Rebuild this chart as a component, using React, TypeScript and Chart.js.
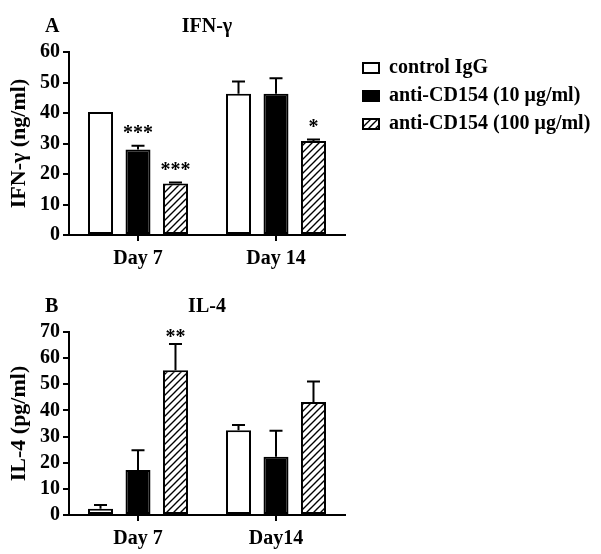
import React, { useEffect, useRef } from "react";
import { Chart, registerables } from "chart.js";

Chart.register(...registerables);

// ---------- data ----------
const CATEGORIES_A = ["Day 7", "Day 14"];
const CATEGORIES_B = ["Day 7", "Day14"];
const SERIES_NAMES = ["control IgG", "anti-CD154 (10 μg/ml)", "anti-CD154 (100 μg/ml)"];

const IFN_CONTROL = [40.3, 46.3];
const IFN_CONTROL_ERR = [0, 4.0];
const IFN_LOW = [28.0, 46.3];
const IFN_LOW_ERR = [1.3, 5.1];
const IFN_HIGH = [16.9, 30.8];
const IFN_HIGH_ERR = [0.3, 0.5];

const IL4_CONTROL = [2.4, 32.4];
const IL4_CONTROL_ERR = [1.4, 2.0];
const IL4_LOW = [17.2, 22.3];
const IL4_LOW_ERR = [7.6, 9.9];
const IL4_HIGH = [55.4, 43.2];
const IL4_HIGH_ERR = [10.0, 7.9];

const IFN_Y_MAX = 60;
const IL4_Y_MAX = 70;
const Y_STEP = 10;

const IFN_STARS = [
  { series: 1, index: 0, text: "***" },
  { series: 2, index: 0, text: "***" },
  { series: 2, index: 1, text: "*" },
];
const IL4_STARS = [{ series: 2, index: 0, text: "**" }];

const PANEL_A = { letter: "A", title: "IFN-γ", yTitle: "IFN-γ (ng/ml)" };
const PANEL_B = { letter: "B", title: "IL-4", yTitle: "IL-4 (pg/ml)" };

// ---------- style ----------
const FONT = "'Liberation Serif', 'Times New Roman', Times, serif";
const BLACK = "#000";

function makeHatch(): CanvasPattern | string {
  const size = 7;
  const c = document.createElement("canvas");
  c.width = size;
  c.height = size;
  const g = c.getContext("2d");
  if (!g) return "#fff";
  g.fillStyle = "#fff";
  g.fillRect(0, 0, size, size);
  g.strokeStyle = "#000";
  g.lineWidth = 1.4;
  g.beginPath();
  g.moveTo(-1, size + 1);
  g.lineTo(size + 1, -1);
  g.moveTo(-size / 2 - 1, size / 2 + 1);
  g.lineTo(size / 2 + 1, -size / 2 - 1);
  g.moveTo(size / 2 - 1, size * 1.5 + 1);
  g.lineTo(size * 1.5 + 1, size / 2 - 1);
  g.stroke();
  return g.createPattern(c, "repeat") || "#fff";
}

function errorBarPlugin(errs: number[][]) {
  return {
    id: "errorBars",
    afterDatasetsDraw(chart: any) {
      const { ctx } = chart;
      const yScale = chart.scales.y;
      ctx.save();
      ctx.strokeStyle = BLACK;
      ctx.lineWidth = 2;
      chart.data.datasets.forEach((ds: any, i: number) => {
        const meta = chart.getDatasetMeta(i);
        meta.data.forEach((bar: any, j: number) => {
          const e = errs[i][j];
          if (!e) return;
          const v = ds.data[j];
          const yTop = yScale.getPixelForValue(v + e);
          const x = bar.x;
          ctx.beginPath();
          ctx.moveTo(x, bar.y);
          ctx.lineTo(x, yTop);
          ctx.moveTo(x - 6.5, yTop);
          ctx.lineTo(x + 6.5, yTop);
          ctx.stroke();
        });
      });
      ctx.restore();
    },
  };
}

function starPlugin(stars: { series: number; index: number; text: string }[], errs: number[][], gap: number) {
  return {
    id: "stars",
    afterDatasetsDraw(chart: any) {
      const { ctx } = chart;
      const yScale = chart.scales.y;
      ctx.save();
      ctx.fillStyle = BLACK;
      ctx.font = `bold 20px ${FONT}`;
      ctx.textAlign = "center";
      ctx.textBaseline = "alphabetic";
      stars.forEach((s) => {
        const bar = chart.getDatasetMeta(s.series).data[s.index];
        const v = chart.data.datasets[s.series].data[s.index] + (errs[s.series][s.index] || 0);
        const y = yScale.getPixelForValue(v);
        ctx.fillText(s.text, bar.x, y - gap);
      });
      ctx.restore();
    },
  };
}

function panelTitlePlugin(letter: string, title: string) {
  return {
    id: "panelTitle",
    afterDraw(chart: any) {
      const { ctx, chartArea } = chart;
      ctx.save();
      ctx.fillStyle = BLACK;
      ctx.font = `bold 20px ${FONT}`;
      ctx.textBaseline = "alphabetic";
      ctx.textAlign = "left";
      ctx.fillText(letter, chartArea.left - 24, chartArea.top - 20);
      ctx.textAlign = "center";
      ctx.fillText(title, (chartArea.left + chartArea.right) / 2, chartArea.top - 20);
      ctx.restore();
    },
  };
}

// places the legend to the right of the plot area
const legendPlacePlugin = {
  id: "legendPlace",
  afterLayout(chart: any) {
    const lg = chart.legend;
    if (!lg) return;
    const ca = chart.chartArea;
    const w = lg.width;
    const h = lg.height;
    lg.left = ca.right + 10;
    lg.right = lg.left + w;
    lg.top = ca.top - 2;
    lg.bottom = lg.top + h;
  },
};

function buildConfig(
  labels: string[],
  values: number[][],
  errs: number[][],
  yMax: number,
  panel: { letter: string; title: string; yTitle: string },
  stars: { series: number; index: number; text: string }[],
  starGap: number,
  withLegend: boolean
): any {
  const hatch = makeHatch();
  const fills = ["#fff", BLACK, hatch];
  return {
    type: "bar",
    data: {
      labels,
      datasets: values.map((vals, i) => ({
        label: SERIES_NAMES[i],
        data: vals,
        backgroundColor: fills[i],
        borderColor: BLACK,
        borderWidth: 2,
        borderSkipped: false,
        categoryPercentage: 0.815,
        barPercentage: 0.667,
      })),
    },
    options: {
      animation: false,
      responsive: false,
      maintainAspectRatio: false,
      events: [],
      layout: { padding: { top: 52, left: 0, bottom: 0, right: 256 } },
      scales: {
        x: {
          grid: {
            offset: false,
            drawOnChartArea: false,
            drawTicks: true,
            tickLength: 6,
            color: BLACK,
            lineWidth: 2,
          },
          border: { display: true, color: BLACK, width: 2 },
          ticks: { color: BLACK, font: { family: FONT, size: 20, weight: "bold" }, padding: 6, maxRotation: 0, autoSkip: false },
          afterFit: (s: any) => {
            s.height = 40;
          },
        },
        y: {
          min: 0,
          max: yMax,
          ticks: {
            stepSize: Y_STEP,
            autoSkip: false,
            color: BLACK,
            font: { family: FONT, size: 20, weight: "bold" },
            padding: 3,
          },
          grid: { drawOnChartArea: false, drawTicks: true, tickLength: 6, color: BLACK, lineWidth: 2 },
          border: { display: true, color: BLACK, width: 2 },
          title: {
            display: true,
            text: panel.yTitle,
            color: BLACK,
            font: { family: FONT, size: 22, weight: "bold" },
            padding: { top: 6, bottom: 0 },
          },
          afterFit: (s: any) => {
            s.width = 69;
          },
        },
      },
      plugins: {
        tooltip: { enabled: false },
        legend: withLegend
          ? {
              display: true,
              position: "chartArea",
              align: "start",
              labels: {
                color: BLACK,
                font: { family: FONT, size: 20, weight: "bold" },
                boxWidth: 16,
                boxHeight: 10,
                padding: 8,
              },
            }
          : { display: false },
      },
    },
    plugins: [
      errorBarPlugin(errs),
      starPlugin(stars, errs, starGap),
      panelTitlePlugin(panel.letter, panel.title),
      ...(withLegend ? [legendPlacePlugin] : []),
    ],
  };
}

function App() {
  const refA = useRef<HTMLCanvasElement | null>(null);
  const refB = useRef<HTMLCanvasElement | null>(null);

  useEffect(() => {
    Chart.defaults.font.family = FONT;
    Chart.defaults.color = BLACK;
    const charts: Chart[] = [];
    if (refA.current) {
      charts.push(
        new Chart(
          refA.current,
          buildConfig(
            CATEGORIES_A,
            [IFN_CONTROL, IFN_LOW, IFN_HIGH],
            [IFN_CONTROL_ERR, IFN_LOW_ERR, IFN_HIGH_ERR],
            IFN_Y_MAX,
            PANEL_A,
            IFN_STARS,
            7,
            true
          )
        )
      );
    }
    if (refB.current) {
      charts.push(
        new Chart(
          refB.current,
          buildConfig(
            CATEGORIES_B,
            [IL4_CONTROL, IL4_LOW, IL4_HIGH],
            [IL4_CONTROL_ERR, IL4_LOW_ERR, IL4_HIGH_ERR],
            IL4_Y_MAX,
            PANEL_B,
            IL4_STARS,
            1,
            false
          )
        )
      );
    }
    return () => charts.forEach((c) => c.destroy());
  }, []);

  return (
    <div style={{ position: "absolute", left: 0, top: 0, width: 601, height: 554, background: "#fff" }}>
      <canvas ref={refA} width={601} height={275} style={{ position: "absolute", left: 0, top: 0 }} />
      <canvas ref={refB} width={601} height={275} style={{ position: "absolute", left: 0, top: 280 }} />
    </div>
  );
}

export default App;
